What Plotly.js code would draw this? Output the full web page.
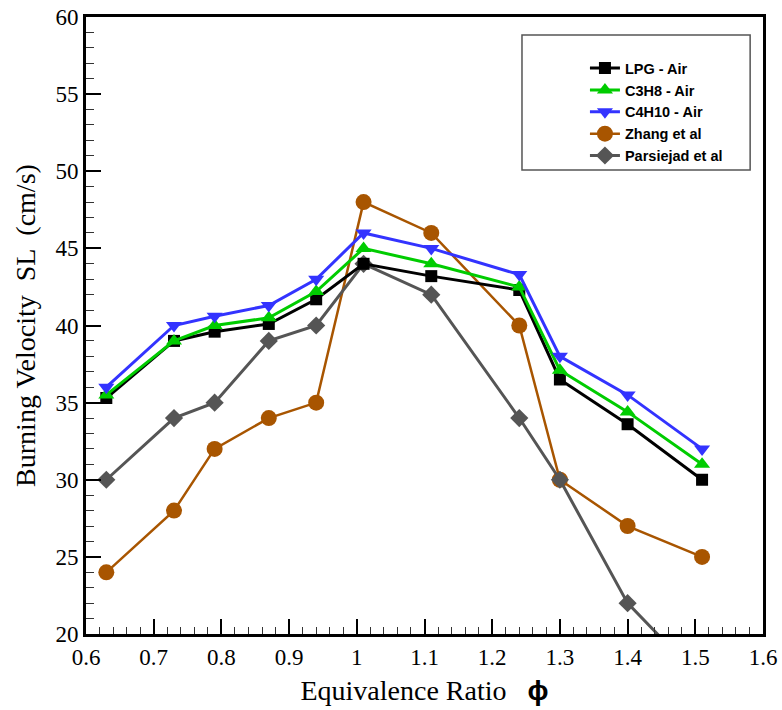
<!DOCTYPE html>
<html><head><meta charset="utf-8">
<script src="https://cdn.plot.ly/plotly-3.0.1.min.js"></script>
<style>
body{margin:0;background:#fff}
</style>
</head><body>
<div id="chart" style="width:782px;height:710px"></div>
<script>
const phi = [0.63, 0.73, 0.79, 0.87, 0.94, 1.01, 1.11, 1.24, 1.30, 1.40, 1.51];
const lpg = [35.3, 39.0, 39.6, 40.1, 41.7, 44.0, 43.2, 42.3, 36.5, 33.6, 30.0];
const c3h8 = [35.5, 39.0, 40.0, 40.5, 42.2, 45.0, 44.0, 42.5, 37.1, 34.4, 31.0];
const c4h10 = [36.0, 40.0, 40.6, 41.3, 43.0, 46.0, 45.0, 43.3, 38.0, 35.5, 32.0];
const zhang = [24, 28, 32, 34, 35, 48, 46, 40, 30, 27, 25];
const parsiejad = [30, 34, 35, 39, 40, 44, 42, 34, 30, 22, 17];
const names = ['LPG - Air', 'C3H8 - Air', 'C4H10 - Air', 'Zhang et al', 'Parsiejad et al'];

const series = [
  {y: zhang, name: names[3], color: '#a85500', sym: 'circle', size: 16, w: 2.5, rank: 4},
  {y: parsiejad, name: names[4], color: '#555555', sym: 'diamond', size: 14, w: 3, rank: 5},
  {y: lpg, name: names[0], color: '#000000', sym: 'square', size: 12, w: 3, rank: 1},
  {y: c3h8, name: names[1], color: '#00cc00', sym: 'triangle-up', size: 14, w: 3, rank: 2},
  {y: c4h10, name: names[2], color: '#3333ff', sym: 'triangle-down', size: 14, w: 3, rank: 3}
];

const traces = series.map(s => ({
  x: phi, y: s.y, name: s.name, type: 'scatter', mode: 'lines+markers',
  legendrank: s.rank,
  line: {color: s.color, width: s.w},
  marker: {symbol: s.sym, size: s.size, color: s.color}
}));

const SERIF = "'Liberation Serif', 'Times New Roman', serif";
const SANS = "'Liberation Sans', Arial, sans-serif";

const layout = {
  width: 782, height: 710,
  margin: {l: 86, r: 19, t: 17, b: 76},
  paper_bgcolor: '#fff', plot_bgcolor: '#fff',
  font: {family: 'Liberation Serif', size: 23, color: '#000'},
  showlegend: true,
  legend: {
    x: 0.737, y: 0.943, xanchor: 'left', yanchor: 'top',
    bgcolor: 'rgba(0,0,0,0)', borderwidth: 0,
    font: {family: 'Liberation Sans', size: 14.5, color: '#000'},
    tracegroupgap: 0, itemwidth: 30
  },
  shapes: [{
    type: 'rect', xref: 'paper', yref: 'paper',
    x0: 0.644, x1: 0.981, y0: 0.752, y1: 0.971,
    line: {color: '#555', width: 1.5}, fillcolor: 'rgba(0,0,0,0)', layer: 'below'
  }],
  xaxis: {
    range: [0.6, 1.6], dtick: 0.1, tick0: 0.6,
    ticks: 'inside', ticklen: 15, tickwidth: 2, tickcolor: '#000',
    minor: {dtick: 0.02, ticks: 'inside', ticklen: 7, tickwidth: 1, tickcolor: '#333'},
    showgrid: false, zeroline: false,
    showline: true, linecolor: '#000', linewidth: 3, mirror: true,
    tickfont: {family: 'Liberation Serif', size: 23, color: '#000'},
    title: {text: 'Equivalence Ratio \u00a0 <span style="font-family:Liberation Sans;font-weight:bold">\u03d5</span>',
            font: {size: 28}, standoff: 12}
  },
  yaxis: {
    range: [20, 60], dtick: 5,
    ticks: 'inside', ticklen: 15, tickwidth: 2, tickcolor: '#000',
    minor: {dtick: 1, ticks: 'inside', ticklen: 8, tickwidth: 1, tickcolor: '#333'},
    showgrid: false, zeroline: false,
    showline: true, linecolor: '#000', linewidth: 3, mirror: true,
    tickfont: {family: 'Liberation Serif', size: 23, color: '#000'},
    title: {text: 'Burning Velocity \u00a0SL \u00a0(cm/s)',
            font: {size: 28}, standoff: 12}
  }
};

Plotly.newPlot('chart', traces, layout, {displayModeBar: false, staticPlot: true}).then(gd => {
  gd.querySelectorAll('svg text').forEach(t => {
    if (t.classList.contains('legendtext')) {
      t.style.setProperty('font-family', SANS, 'important');
      t.style.setProperty('font-weight', 'bold', 'important');
    } else {
      t.style.setProperty('font-family', SERIF, 'important');
    }
  });
});
</script>
</body></html>
